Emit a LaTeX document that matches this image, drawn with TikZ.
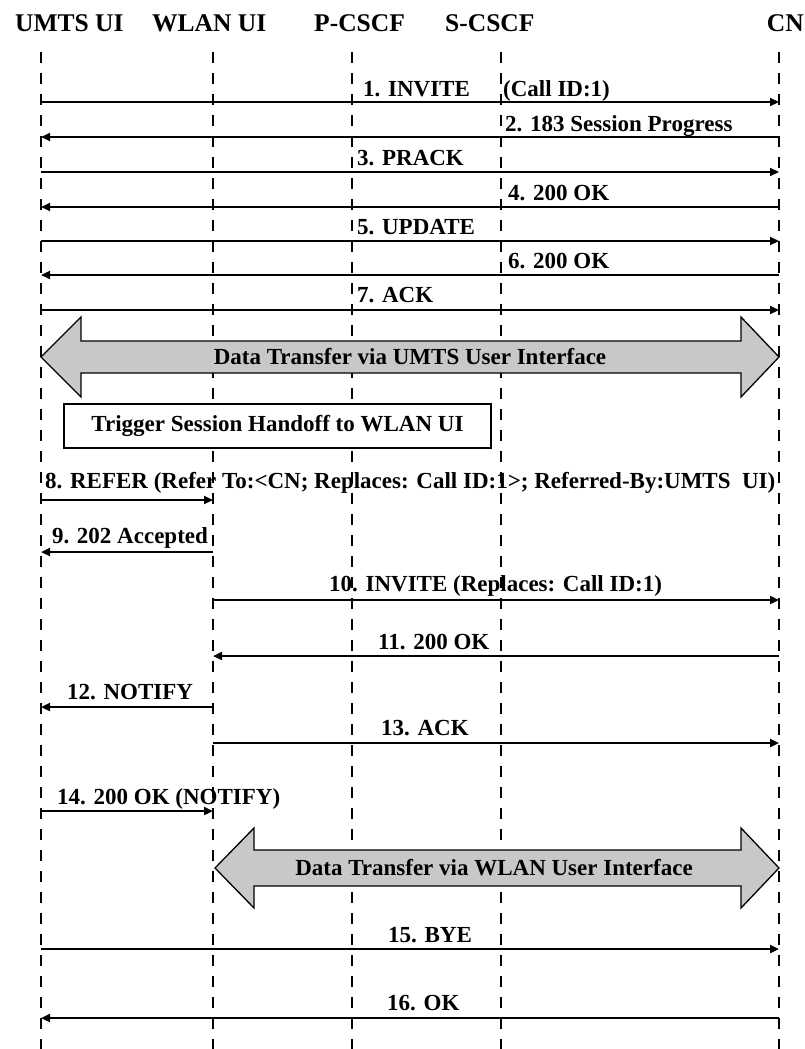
\documentclass[tikz,border=0pt]{standalone}
\usepackage{fontspec}
\setmainfont{Liberation Serif}
\usetikzlibrary{arrows.meta}
\definecolor{bigfill}{RGB}{200,200,200}
\begin{document}
\begin{tikzpicture}[x=1pt,y=-1pt,
  lifeline/.style={line width=2pt, dash pattern=on 11pt off 10pt},
  msg/.style={line width=2.2pt, -{Triangle[length=9pt,width=8pt]}},
  lbl/.style={inner sep=0pt, anchor=base west, font=\fontsize{23}{26}\selectfont\bfseries},
  clbl/.style={inner sep=0pt, anchor=base, font=\fontsize{23}{26}\selectfont\bfseries},
  hdr/.style={inner sep=0pt, anchor=base west, font=\fontsize{25.5}{28}\selectfont\bfseries},
  bigarrow/.style={draw=black, line width=1.3pt, fill=bigfill},
  trigbox/.style={draw=black, line width=1.3pt, fill=white, inner sep=0pt,
    minimum width=427pt, minimum height=44pt, font=\fontsize{23}{26}\selectfont\bfseries},
]
\useasboundingbox (0,0) rectangle (805,1049);

% headers
\node[hdr] (hU) at (15,32) {UMTS UI};
\node[hdr] (hW) at (152,32) {WLAN UI};
\node[hdr] (hP) at (314,32) {P-CSCF};
\node[hdr] (hS) at (445,32) {S-CSCF};
\node[hdr, anchor=base east] (hC) at (804,32) {CN};

% lifelines
\foreach \nm/\x in {U/41, W/213, P/352, S/501, C/779} {
  \coordinate (\nm top) at (\x,52);
  \coordinate (\nm bot) at (\x,1049);
  \draw[lifeline] (\nm top) -- (\nm bot);
}

% message rows
\foreach \n/\y in {1/102,2/137,3/172,4/207,5/241,6/275,7/310,8/500,9/552,10/600,11/656,12/707,13/743,14/811,15/949,16/1018} {
  \coordinate (U\n) at (41,\y);
  \coordinate (W\n) at (213,\y);
  \coordinate (C\n) at (779,\y);
}

\draw[msg] (U1) -- (C1);
\draw[msg] (C2) -- (U2);
\draw[msg] (U3) -- (C3);
\draw[msg] (C4) -- (U4);
\draw[msg] (U5) -- (C5);
\draw[msg] (C6) -- (U6);
\draw[msg] (U7) -- (C7);
\draw[msg] (U8) -- (W8);
\draw[msg] (W9) -- (U9);
\draw[msg] (W10) -- (C10);
\draw[msg] (C11) -- (W11);
\draw[msg] (W12) -- (U12);
\draw[msg] (W13) -- (C13);
\draw[msg] (U14) -- (W14);
\draw[msg] (U15) -- (C15);
\draw[msg] (C16) -- (U16);

% labels
\node[lbl] (l1) at (363,96) {1. INVITE};
\node[lbl] (l1b) at (503,96) {(Call ID:1)};
\node[lbl] (l2) at (505,131) {2. 183 Session Progress};
\node[lbl] (l3) at (357,165) {3. PRACK};
\node[lbl] (l4) at (508,200) {4. 200 OK};
\node[lbl] (l5) at (357,234) {5. UPDATE};
\node[lbl] (l6) at (508,268) {6. 200 OK};
\node[lbl] (l7) at (357,302) {7. ACK};
\node[lbl] (l8) at (45,488) {8. REFER (Refer To:<CN; Replaces: Call ID:1>; Referred-By:UMTS\ \ UI)};
\node[clbl] (l9) at (130,543) {9. 202 Accepted};
\node[lbl] (l10) at (329,591) {10. INVITE (Replaces: Call ID:1)};
\node[lbl] (l11) at (378,649) {11. 200 OK};
\node[lbl] (l12) at (67,699) {12. NOTIFY};
\node[lbl] (l13) at (381,735) {13. ACK};
\node[lbl] (l14) at (57,804) {14. 200 OK (NOTIFY)};
\node[lbl] (l15) at (388,942) {15. BYE};
\node[lbl] (l16) at (387,1010) {16. OK};

% data transfer via UMTS
\draw[bigarrow] (41,357) -- (81,317) -- (81,341) -- (741,341) -- (741,317) -- (779,357)
  -- (741,397) -- (741,373) -- (81,373) -- (81,397) -- cycle;
\node[clbl, anchor=center] (dt1) at (410,357) {Data Transfer via UMTS User Interface};

% trigger box
\node[trigbox] (trig) at (277.5,426) {Trigger Session Handoff to WLAN UI};

% data transfer via WLAN
\draw[bigarrow] (215,868) -- (254,828) -- (254,850) -- (741,850) -- (741,828) -- (779,868)
  -- (741,908) -- (741,886) -- (254,886) -- (254,908) -- cycle;
\node[clbl, anchor=center] (dt2) at (494,868) {Data Transfer via WLAN User Interface};
\end{tikzpicture}
\end{document}
